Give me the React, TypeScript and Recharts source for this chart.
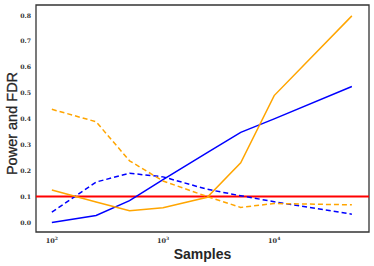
import React from 'react';
import { LineChart, Line, XAxis, YAxis, ReferenceLine, ReferenceArea } from 'recharts';

// sample sizes on the x axis (log scale)
const samples = [100, 250, 500, 1000, 2500, 5000, 10000, 50000];

// blue method
const bluePower = [0.0, 0.027, 0.084, 0.165, 0.27, 0.348, 0.4, 0.525];
const blueFdr = [0.04, 0.156, 0.19, 0.176, 0.128, 0.103, 0.08, 0.032];

// orange method
const orangePower = [0.125, 0.079, 0.045, 0.057, 0.097, 0.23, 0.49, 0.798];
const orangeFdr = [0.437, 0.389, 0.238, 0.16, 0.1, 0.058, 0.073, 0.068];

const xTicks = [100, 1000, 10000];
const yTicks = [0, 0.1, 0.2, 0.3, 0.4, 0.5, 0.6, 0.7, 0.8];
const fdrLevel = 0.1;

const xDomain = [72, 71300];
const yDomain = [-0.037, 0.84];

const data = samples.map((n, i) => ({
    n,
    bluePower: bluePower[i],
    blueFdr: blueFdr[i],
    orangePower: orangePower[i],
    orangeFdr: orangeFdr[i],
}));

const tickFont = "'DejaVu Serif', serif";
const labelFont = "'Liberation Sans', Arial, sans-serif";

function PowTick(props: any) {
    const { x, y, payload } = props;
    const exp = Math.round(Math.log10(payload.value));
    return (
        <text x={x} y={y + 3} textAnchor="middle" fontFamily={tickFont} fontWeight="bold" fontSize={6.5} fill="#333">
            <tspan>10</tspan>
            <tspan dy={-3} fontSize={4.5}>{exp}</tspan>
        </text>
    );
}

function YTitle(props: any) {
    const { viewBox } = props;
    const cy = viewBox.y + viewBox.height / 2 + 5;
    return (
        <text x={17} y={cy} transform={`rotate(-90 17 ${cy})`} textAnchor="middle"
            fontFamily={labelFont} fontSize={14.5} fill="#262626" stroke="#262626" strokeWidth={0.3}>
            Power and FDR
        </text>
    );
}

export default function App() {
    return (
        <div style={{ position: 'fixed', left: 0, top: 0, width: 374, height: 266, background: '#fff' }}>
            <LineChart width={374} height={266} data={data} margin={{ top: 5, right: 5, left: 0, bottom: 0 }}>
                <XAxis
                    dataKey="n"
                    type="number"
                    scale="log"
                    domain={xDomain}
                    ticks={xTicks}
                    allowDataOverflow
                    height={34}
                    tickLine={false}
                    axisLine={false}
                    tick={<PowTick />}
                    label={{
                        value: 'Samples',
                        position: 'insideBottom',
                        offset: 7,
                        style: { fontFamily: labelFont, fontWeight: 'bold', fontSize: 14, fill: '#262626' },
                    }}
                />
                <YAxis
                    type="number"
                    domain={yDomain}
                    ticks={yTicks}
                    allowDataOverflow
                    width={36}
                    tickLine={false}
                    tickSize={5}
                    tickMargin={0}
                    axisLine={false}
                    tickFormatter={(v) => v.toFixed(1)}
                    tick={{ fontFamily: tickFont, fontWeight: 'bold', fontSize: 6.2, fill: '#333' }}
                    label={<YTitle />}
                />
                <ReferenceArea x1={xDomain[0]} x2={xDomain[1]} y1={yDomain[0]} y2={yDomain[1]}
                    fill="none" stroke="#333" strokeWidth={1.3} ifOverflow="visible" />
                <ReferenceLine y={fdrLevel} stroke="#ff0000" strokeWidth={2} />
                <Line dataKey="bluePower" stroke="#0000ff" strokeWidth={1.5} dot={false} isAnimationActive={false} />
                <Line dataKey="blueFdr" stroke="#0000ff" strokeWidth={1.5} strokeDasharray="5 3" dot={false} isAnimationActive={false} />
                <Line dataKey="orangePower" stroke="#ffa500" strokeWidth={1.5} dot={false} isAnimationActive={false} />
                <Line dataKey="orangeFdr" stroke="#ffa500" strokeWidth={1.5} strokeDasharray="5 3" dot={false} isAnimationActive={false} />
            </LineChart>
        </div>
    );
}
